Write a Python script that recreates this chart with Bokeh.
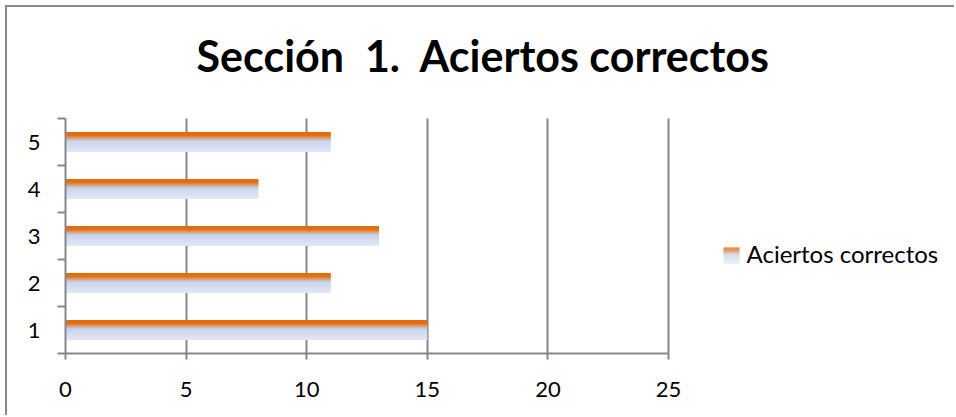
import numpy as np
from bokeh.plotting import figure
from bokeh.models import (ColumnDataSource, FixedTicker, Label, Range1d, BoxAnnotation)
from bokeh.embed import file_html
from bokeh.resources import INLINE

# ---- data ----
categories = [1, 2, 3, 4, 5]
aciertos = [15, 11, 13, 8, 11]
x_ticks = [0, 5, 10, 15, 20, 25]
title_text = "Sección\u00a0 1.\u00a0 Aciertos correctos"
series_name = "Aciertos correctos"

FONT = "Lato"
GRAY = "#878787"

# ---- layout (pixels) ----
OFF = 7                      # canvas offset inside the outer border
W, H = 956 - OFF, 417 - OFF
FRAME_L = 65 - OFF           # frame left in canvas
FRAME_B = 353 - OFF          # frame bottom in canvas
PX_X = 603 / 25.0            # px per x unit
PX_Y = 47.0                  # px per category
x_end = (W - FRAME_L) / PX_X
y_top = 0.5 + FRAME_B / PX_Y

p = figure(width=W, height=H, output_backend="svg", toolbar_location=None,
           x_range=Range1d(0, x_end), y_range=Range1d(0.5, y_top),
           min_border_left=FRAME_L, min_border_right=0, min_border_top=0,
           min_border_bottom=H - FRAME_B)
p.outline_line_color = None
# outer border (top and left only) drawn as an offset shadow, no CSS border box
p.styles = {"position": "absolute", "left": "%dpx" % OFF, "top": "%dpx" % OFF,
            "box-shadow": "-2px -2px 0 0 #8a8a8a", "background": "white"}

stops = [(0.0, (228, 108, 10)), (0.16, (228, 108, 10)), (0.45, (200, 212, 238)),
         (1.0, (226, 232, 246))]

def grad(t):
    for (t0, c0), (t1, c1) in zip(stops[:-1], stops[1:]):
        if t0 <= t <= t1:
            f = 0 if t1 == t0 else (t - t0) / (t1 - t0)
            return "#%02x%02x%02x" % tuple(int(round(a + (b - a) * f)) for a, b in zip(c0, c1))
    return "#%02x%02x%02x" % stops[-1][1]

BAR_H = 0.43
N = 20
cats = np.array(categories, dtype=float)
vals = np.array(aciertos, dtype=float)
for i in range(N):
    t0, t1 = i / N, (i + 1) / N
    src = ColumnDataSource(dict(
        top=cats + BAR_H / 2 - t0 * BAR_H,
        bottom=cats + BAR_H / 2 - t1 * BAR_H,
        left=np.zeros_like(vals),
        right=vals))
    p.quad(top="top", bottom="bottom", left="left", right="right", source=src,
           fill_color=grad((t0 + t1) / 2), line_color=None)

# ---- axes ----
p.xaxis.ticker = FixedTicker(ticks=x_ticks)
p.xaxis.bounds = (x_ticks[0], x_ticks[-1])
p.yaxis.ticker = FixedTicker(ticks=categories,
                             minor_ticks=[c - 0.5 for c in categories] + [categories[-1] + 0.5])
p.yaxis.bounds = (categories[0] - 0.5, categories[-1] + 0.5)
for ax in (p.xaxis[0], p.yaxis[0]):
    ax.axis_line_color = GRAY
    ax.axis_line_width = 2
    ax.major_label_text_font = FONT
    ax.major_label_text_font_size = "22px"
    ax.major_label_text_color = "black"
p.xaxis.major_tick_line_color = GRAY
p.xaxis.major_tick_line_width = 2
p.xaxis.major_tick_in = 0
p.xaxis.major_tick_out = 6
p.xaxis.minor_tick_line_color = None
p.xaxis.major_label_standoff = 22
p.yaxis.major_tick_line_color = None
p.yaxis.minor_tick_line_color = GRAY
p.yaxis.minor_tick_line_width = 2
p.yaxis.minor_tick_in = 0
p.yaxis.minor_tick_out = 8
p.yaxis.major_label_standoff = 17

p.xgrid.ticker = FixedTicker(ticks=x_ticks[1:])
p.xgrid.grid_line_color = GRAY
p.xgrid.grid_line_width = 2
p.xgrid.cross_bounds = (categories[0] - 0.5, categories[-1] + 0.5)
p.ygrid.grid_line_color = None

# ---- title & legend (screen units: from the frame's bottom-left) ----
def fx(x):  # window x -> frame-relative
    return x - 65
def fy(y):  # window y -> frame-relative (upwards)
    return 353 - y

p.add_layout(Label(x=fx(483), y=fy(55), x_units="screen", y_units="screen",
                   text=title_text, text_align="center", text_baseline="alphabetic",
                   text_font=FONT, text_font_style="bold", text_font_size="43px",
                   text_color="black"))

p.add_layout(Label(x=fx(746), y=fy(253), x_units="screen", y_units="screen",
                   text=series_name, text_align="left", text_baseline="alphabetic",
                   text_font=FONT, text_font_size="24px", text_color="black"))

SW_T, SW_B, SW_L, SW_R = 247, 263, 723, 739
M = SW_B - SW_T
for i in range(M):
    p.add_layout(BoxAnnotation(left=fx(SW_L), right=fx(SW_R), top=fy(SW_T + i),
                               bottom=fy(SW_T + i + 1), left_units="screen",
                               right_units="screen", top_units="screen",
                               bottom_units="screen", fill_color=grad((i + 0.5) / M),
                               fill_alpha=1, line_color=None))

open("out.html", "w").write(file_html(p, INLINE))
